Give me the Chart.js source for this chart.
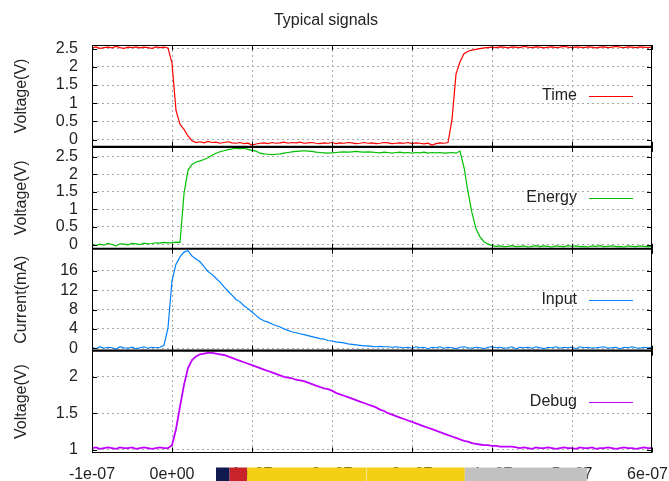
<!DOCTYPE html>
<html>
<head>
<meta charset="utf-8">
<title>Typical signals</title>
<script src="https://cdn.jsdelivr.net/npm/chart.js@4.4.1/dist/chart.umd.min.js"></script>
<style>
  html, body { margin: 0; padding: 0; background: #ffffff; }
  #c { display: block; }
</style>
</head>
<body>
<canvas id="c" width="669" height="481"></canvas>
<script>
// Sample instants, in nanoseconds
const sampleNs = [
  -100,-95,-90,-85,-80,-75,-70,-65,-60,-55,-50,-45,-40,-35,-30,-25,-20,-15,-10,-5,
  0,5,10,15,20,25,30,35,40,45,50,55,60,65,70,75,80,85,90,95,
  100,105,110,115,120,125,130,135,140,145,150,155,160,165,170,175,180,185,190,195,
  200,205,210,215,220,225,230,235,240,245,250,255,260,265,270,275,280,285,290,295,
  300,305,310,315,320,325,330,335,340,345,350,355,360,365,370,375,380,385,390,395,
  400,405,410,415,420,425,430,435,440,445,450,455,460,465,470,475,480,485,490,495,
  500,505,510,515,520,525,530,535,540,545,550,555,560,565,570,575,580,585,590,595,
  600
];

// Series (V, V, mA, V)
const timeV = [
  2.52,2.55,2.51,2.53,2.54,2.52,2.56,2.53,2.51,2.54,2.53,2.55,2.52,2.54,2.53,2.51,2.55,2.53,2.54,2.52,
  2.1,0.8,0.42,0.28,0.1,-0.03,-0.08,
  -0.06,-0.09,-0.05,-0.08,-0.07,-0.1,-0.08,-0.06,-0.09,-0.1,
  -0.08,-0.11,-0.1,-0.15,-0.12,-0.1,-0.09,-0.11,-0.08,-0.1,
  -0.09,-0.07,-0.1,-0.08,-0.09,-0.07,-0.1,-0.09,-0.08,-0.1,
  -0.11,-0.09,-0.1,-0.08,-0.11,-0.09,-0.1,-0.08,-0.09,-0.11,
  -0.1,-0.08,-0.1,-0.09,-0.11,-0.1,-0.08,-0.09,-0.11,-0.1,
  -0.09,-0.1,-0.08,-0.11,-0.09,-0.1,-0.12,-0.1,-0.15,-0.11,
  -0.09,-0.1,-0.08,
  0.55,1.8,2.14,2.36,2.43,2.46,2.48,2.5,2.52,2.53,
  2.54,2.53,2.55,2.54,2.52,2.55,2.54,2.53,2.56,2.54,
  2.53,2.55,2.54,2.52,2.54,2.55,2.53,2.54,2.56,2.54,
  2.53,2.55,2.54,2.53,2.55,2.54,2.52,2.54,2.55,2.53,
  2.54,2.56,2.54,2.53,2.55,2.54,2.53,2.55,2.54,2.53,
  2.54
];

const energyV = [
  0.02,-0.03,0.01,-0.02,0.03,0.0,-0.04,0.02,0.01,-0.01,0.03,0.02,0.0,0.04,0.02,0.03,0.05,0.04,0.06,0.05,
  0.05,0.07,0.06,
  1.45,2.12,2.28,2.35,2.38,2.42,2.47,2.54,2.6,2.64,
  2.67,2.7,2.72,2.74,2.73,2.74,2.71,2.68,2.66,2.6,
  2.58,2.57,2.56,2.57,2.58,2.6,2.62,2.64,2.65,2.66,
  2.67,2.66,2.65,2.63,2.62,2.61,2.6,2.61,2.62,2.63,
  2.64,2.63,2.64,2.65,2.64,2.63,2.64,
  2.63,2.62,2.61,2.63,2.62,2.6,2.62,2.63,2.61,2.62,
  2.6,2.62,2.61,2.63,2.6,2.62,2.61,2.62,2.6,2.61,2.62,
  2.6,2.66,2.2,1.5,0.9,0.45,0.22,0.08,0.01,-0.03,-0.05,
  -0.04,-0.06,-0.05,-0.03,-0.06,-0.05,-0.04,-0.07,-0.05,-0.03,
  -0.06,-0.04,-0.05,-0.07,-0.04,-0.05,-0.06,-0.03,-0.05,-0.04,
  -0.06,-0.05,-0.07,-0.04,-0.05,-0.03,-0.06,-0.05,-0.04,-0.06,
  -0.05,-0.07,-0.04,-0.05,-0.06,-0.04,-0.05,-0.06,-0.05
];

const inputMA = [
  0.2,-0.1,0.3,0.0,0.2,0.1,-0.2,0.3,0.1,0.0,0.2,-0.1,0.1,0.3,0.0,0.2,0.1,0.2,
  0.6,4.2,14.0,17.4,18.9,19.9,20.2,19.1,18.5,17.9,
  16.9,15.9,15.3,14.5,13.7,12.7,11.8,11.0,10.1,9.6,
  8.8,8.2,7.5,6.8,6.1,5.7,5.4,5.0,4.7,4.4,
  4.0,3.7,3.4,3.2,3.0,2.8,2.6,2.4,2.2,2.0,
  1.9,1.6,1.5,1.3,1.2,1.1,0.9,0.8,0.7,0.6,
  0.5,0.5,0.4,0.3,0.4,0.3,0.3,0.2,0.3,0.2,
  0.1,0.2,0.0,0.3,0.1,0.2,-0.1,0.2,0.1,0.3,
  0.0,0.2,0.1,-0.1,0.2,0.3,0.1,0.0,0.2,0.1,
  -0.1,0.2,0.3,0.1,0.2,0.0,0.1,0.3,-0.1,0.2,
  0.1,0.2,0.0,0.3,0.1,-0.1,0.2,0.1,0.3,0.0,
  0.2,0.1,0.2,-0.1,0.3,0.1,0.2,0.0,0.1,0.2,
  0.3,0.0,0.1,0.2,-0.1,0.2,0.1,0.3,0.1,0.0,
  0.2,0.1,0.2
];

const debugV = [
  1.02,1.03,1.01,1.02,1.03,1.02,1.01,1.03,1.02,1.02,1.03,1.01,1.02,1.03,1.02,1.01,1.02,1.03,1.02,1.02,
  1.06,1.28,1.59,1.89,2.12,2.23,2.28,2.31,2.32,2.33,
  2.33,2.32,2.31,2.3,2.28,2.26,2.24,2.22,2.2,2.18,
  2.16,2.14,2.12,2.1,2.08,2.06,2.04,2.02,2.0,1.99,
  1.98,1.96,1.95,1.94,1.92,1.9,1.88,1.86,1.84,1.83,
  1.81,1.78,1.76,1.74,1.72,1.7,1.68,1.66,1.64,1.62,
  1.6,1.58,1.55,1.53,1.5,1.48,1.46,1.44,1.42,1.4,
  1.38,1.36,1.34,1.32,1.3,1.28,1.26,1.24,1.22,1.2,
  1.18,1.16,1.14,1.12,1.11,1.09,1.08,1.07,1.06,1.06,
  1.05,1.05,1.04,1.04,1.04,1.04,
  1.03,1.02,1.03,1.02,1.01,1.03,1.02,1.02,1.03,1.02,
  1.01,1.02,1.03,1.02,1.02,1.01,1.03,1.02,1.02,1.03,
  1.01,1.02,1.02,1.03,1.02,1.01,1.02,1.03,1.02,1.02,
  1.01,1.02,1.03,1.02,1.02
];

const seriesNames = ['Time', 'Energy', 'Input', 'Debug'];
const axisTitles = ['Voltage(V)', 'Voltage(V)', 'Current(mA)', 'Voltage(V)'];

// Axis ticks
const xTickValues = [-1e-7, 0, 1e-7, 2e-7, 3e-7, 4e-7, 5e-7, 6e-7];
const xTickLabels = ['-1e-07', '0e+00', '1e-07', '2e-07', '3e-07', '4e-07', '5e-07', '6e-07'];
const timeTicks = [0, 0.5, 1, 1.5, 2, 2.5];
const energyTicks = [0, 0.5, 1, 1.5, 2, 2.5];
const inputTicks = [0, 4, 8, 12, 16];
const debugTicks = [1, 1.5, 2];

// Phase bar along the time axis (ns edges)
const phaseEdgesNs = [55, 72, 94, 242.5, 366, 519];

// ---- styling ----
const FONT = '"Liberation Sans", Arial, sans-serif';
const TEXT = '#222222';
const lineColors = ['#ff0000', '#00c000', '#0080ff', '#c000ff'];
const lineWidths = [1.2, 1.2, 1.2, 1.8];
const phaseColors = ['#111a4e', '#c8232b', '#f4cf15', '#f4cf15', '#c1c1c1'];
const panelIds = ['yTime', 'yEnergy', 'yInput', 'yDebug'];
const panelRanges = [[-0.2, 2.6], [-0.12, 2.78], [-0.5, 20.6], [0.96, 2.36]];
const panelTicks = [timeTicks, energyTicks, inputTicks, debugTicks];
const seriesValues = [timeV, energyV, inputMA, debugV];

const datasets = seriesValues.map((vals, k) => ({
  label: seriesNames[k],
  data: sampleNs.map((t, i) => ({ x: t * 1e-9, y: vals[i] })),
  yAxisID: panelIds[k],
  borderColor: lineColors[k],
  backgroundColor: lineColors[k],
  borderWidth: lineWidths[k],
  pointRadius: 0,
  tension: 0,
  fill: false
}));

function fitNoPad(scale) {
  scale.paddingTop = 0; scale.paddingBottom = 0;
  scale.paddingLeft = 0; scale.paddingRight = 0;
}

// the last time label sits against the right edge, so it is nudged inward
function xLabel(i) {
  return i === xTickLabels.length - 1 ? xTickLabels[i] + '  ' : xTickLabels[i];
}

const scales = {
  x: {
    type: 'linear',
    min: -1e-7,
    max: 6e-7,
    afterBuildTicks: s => { s.ticks = xTickValues.map(v => ({ value: v })); },
    afterFit: s => { s.height = 28.5; fitNoPad(s); },
    ticks: {
      callback: (v, i) => xLabel(i),
      font: { family: FONT, size: 16 },
      color: TEXT,
      padding: 12,
      maxRotation: 0,
      autoSkip: false
    },
    grid: {
      color: c => (c.index === 0 || c.index === xTickValues.length - 1) ? 'rgba(0,0,0,0)' : '#a8a8a8',
      lineWidth: 1,
      drawTicks: false
    },
    border: { display: false, dash: [2, 3] }
  }
};

panelIds.forEach((id, k) => {
  scales[id] = {
    type: 'linear',
    position: 'left',
    stack: 'panels',
    stackWeight: 1,
    weight: 10 - k,
    min: panelRanges[k][0],
    max: panelRanges[k][1],
    afterBuildTicks: s => { s.ticks = panelTicks[k].map(v => ({ value: v })); },
    afterFit: s => { s.width = 92; fitNoPad(s); },
    ticks: {
      callback: v => String(v),
      font: { family: FONT, size: 16 },
      color: TEXT,
      padding: 14,
      autoSkip: false
    },
    title: {
      display: true,
      text: axisTitles[k],
      font: { family: FONT, size: 16 },
      color: TEXT,
      padding: { top: 12, bottom: 0 }
    },
    grid: { color: '#a8a8a8', lineWidth: 1, drawTicks: false },
    border: { display: false, dash: [2, 3] }
  };
});

// Frame, panel separators, inward tick marks and per-panel keys
const panelFrame = {
  id: 'panelFrame',
  afterDatasetsDraw(chart) {
    const { ctx, chartArea: a, scales: sc } = chart;
    const xs = sc.x;
    ctx.save();
    ctx.strokeStyle = '#000000';
    ctx.lineWidth = 1;
    ctx.beginPath();
    panelIds.forEach(id => {
      const s = sc[id];
      xs.ticks.forEach(t => {
        const px = Math.round(xs.getPixelForValue(t.value)) + 0.5;
        ctx.moveTo(px, s.top); ctx.lineTo(px, s.top + 5);
        ctx.moveTo(px, s.bottom); ctx.lineTo(px, s.bottom - 5);
      });
      s.ticks.forEach(t => {
        const py = Math.round(s.getPixelForValue(t.value)) + 0.5;
        ctx.moveTo(a.left, py); ctx.lineTo(a.left + 5, py);
        ctx.moveTo(a.right, py); ctx.lineTo(a.right - 5, py);
      });
    });
    ctx.stroke();
    ctx.strokeRect(Math.round(a.left) + 0.5, Math.round(a.top) + 0.5,
      Math.round(a.right - a.left) - 1, Math.round(a.bottom - a.top) - 1);
    ctx.lineWidth = 2.2;
    ctx.beginPath();
    for (let k = 1; k < panelIds.length; k++) {
      const y = sc[panelIds[k]].top;
      ctx.moveTo(a.left, y); ctx.lineTo(a.right, y);
    }
    ctx.stroke();

    ctx.font = '16px ' + FONT;
    ctx.fillStyle = TEXT;
    ctx.textAlign = 'right';
    ctx.textBaseline = 'middle';
    chart.data.datasets.forEach((ds, k) => {
      const s = sc[panelIds[k]];
      const yc = (s.top + s.bottom) / 2;
      ctx.fillText(ds.label, a.right - 75, yc);
      ctx.strokeStyle = ds.borderColor;
      ctx.lineWidth = 1.2;
      ctx.beginPath();
      ctx.moveTo(a.right - 63, Math.round(yc) + 0.5);
      ctx.lineTo(a.right - 19, Math.round(yc) + 0.5);
      ctx.stroke();
    });
    ctx.restore();
  }
};

// Phase bar drawn below the plot, across the time axis
const phaseBar = {
  id: 'phaseBar',
  afterDraw(chart) {
    const { ctx, chartArea: a, scales: sc } = chart;
    const xs = sc.x;
    const top = a.bottom + 15;
    const h = chart.height - top;
    ctx.save();
    for (let k = 0; k < phaseEdgesNs.length - 1; k++) {
      const x0 = xs.getPixelForValue(phaseEdgesNs[k] * 1e-9);
      const x1 = xs.getPixelForValue(phaseEdgesNs[k + 1] * 1e-9);
      ctx.fillStyle = phaseColors[k];
      ctx.fillRect(x0, top, x1 - x0, h);
    }
    const xm = Math.round(xs.getPixelForValue(phaseEdgesNs[3] * 1e-9));
    ctx.fillStyle = '#f9e48f';
    ctx.fillRect(xm, top, 1, h);
    ctx.restore();
  }
};

new Chart(document.getElementById('c'), {
  type: 'line',
  data: { datasets },
  options: {
    responsive: false,
    animation: false,
    devicePixelRatio: 1,
    layout: { padding: { left: 0, right: 17, top: 0, bottom: 0 } },
    scales,
    plugins: {
      legend: { display: false },
      tooltip: { enabled: false },
      title: {
        display: true,
        text: 'Typical signals',
        font: { family: FONT, size: 16, weight: 'normal' },
        color: TEXT,
        padding: { top: 11, bottom: 14.8 }
      }
    }
  },
  plugins: [panelFrame, phaseBar]
});
</script>
</body>
</html>
